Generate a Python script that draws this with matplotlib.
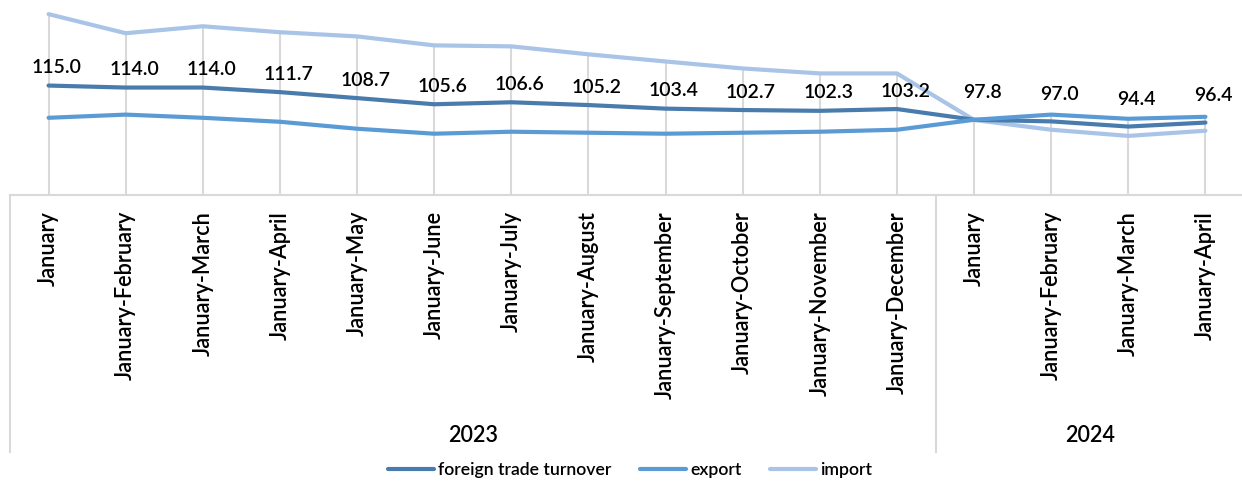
import matplotlib.pyplot as plt
import matplotlib.transforms as mtransforms

plt.rcParams['font.family'] = ['Lato', 'DejaVu Sans']

# DATA
months = ['January', 'January-February', 'January-March', 'January-April',
          'January-May', 'January-June', 'January-July', 'January-August',
          'January-September', 'January-October', 'January-November',
          'January-December',
          'January', 'January-February', 'January-March', 'January-April']
years = ['2023', '2024']
year_counts = [12, 4]

turnover = [115.0, 114.0, 114.0, 111.7, 108.7, 105.6, 106.6, 105.2,
            103.4, 102.7, 102.3, 103.2, 97.8, 97.0, 94.4, 96.4]
export = [98.8, 100.4, 98.8, 96.8, 93.3, 90.8, 91.8, 91.3,
          90.8, 91.3, 91.8, 92.8, 97.8, 100.4, 98.3, 99.3]
imports = [150.9, 141.3, 144.8, 141.8, 139.7, 135.2, 134.7, 130.7,
           127.1, 123.6, 121.1, 121.1, 97.7, 92.8, 89.7, 92.3]

# COLORS
c_turn = '#4a7bad'
c_exp = '#5b9bd5'
c_imp = '#a9c4e7'
grid_c = '#d9d9d9'
wt = 'semibold'

W, H = 1242, 482
fig = plt.figure(figsize=(W / 100, H / 100), dpi=100)
ax = fig.add_axes([10 / W, 1 - 195 / H, 1234 / W, 195 / H])

x = list(range(len(months)))
ymin, ymax = 60, 158

# DROP LINES FROM HIGHEST POINT
tops = [max(a, b, c) for a, b, c in zip(turnover, export, imports)]
ax.vlines(x, ymin, tops, color=grid_c, lw=1.5, zorder=1)

ax.plot(x, turnover, color=c_turn, lw=3, label='foreign trade turnover', zorder=3,
        solid_capstyle='round')
ax.plot(x, export, color=c_exp, lw=3, label='export', zorder=3, solid_capstyle='round')
ax.plot(x, imports, color=c_imp, lw=3, label='import', zorder=2, solid_capstyle='round')

# DATA LABELS ON TURNOVER
for i, v in enumerate(turnover):
    dy = 18 if i < year_counts[0] else 27
    ax.annotate(f'{v:.1f}', (i, v), xytext=(6, dy * 0.72), textcoords='offset points',
                ha='center', va='center', fontsize=14, fontweight=wt, color='black')

ax.set_xlim(-0.5, len(months) - 0.5)
ax.set_ylim(ymin, ymax)
ax.set_xticks([])
ax.set_yticks([])
for s in ['top', 'right', 'left']:
    ax.spines[s].set_visible(False)
ax.spines['bottom'].set_color(grid_c)
ax.spines['bottom'].set_linewidth(1.5)

# MULTI-LEVEL CATEGORY AXIS
tr = mtransforms.blended_transform_factory(ax.transData, fig.transFigure)
for i, m in enumerate(months):
    ax.text(i, 1 - 211 / H, m, rotation=90, ha='center', va='top',
            fontsize=15.7, fontweight=wt, transform=tr, color='black')

start = -0.5
for yr, n in zip(years, year_counts):
    ax.text(start + n / 2, 1 - 435 / H, yr, ha='center', va='center',
            fontsize=15.5, fontweight=wt, transform=tr, color='black')
    ax.plot([start, start], [1 - 195 / H, 1 - 452 / H], color=grid_c, lw=1.5,
            transform=tr, clip_on=False)
    start += n

fig.legend(loc='center', bbox_to_anchor=(630 / W, 1 - 470 / H), ncol=3,
           frameon=False, handlelength=2.6, columnspacing=1.6,
           handletextpad=0.25, prop={'size': 12.7, 'weight': wt})

fig.savefig('out.png', dpi=100)
